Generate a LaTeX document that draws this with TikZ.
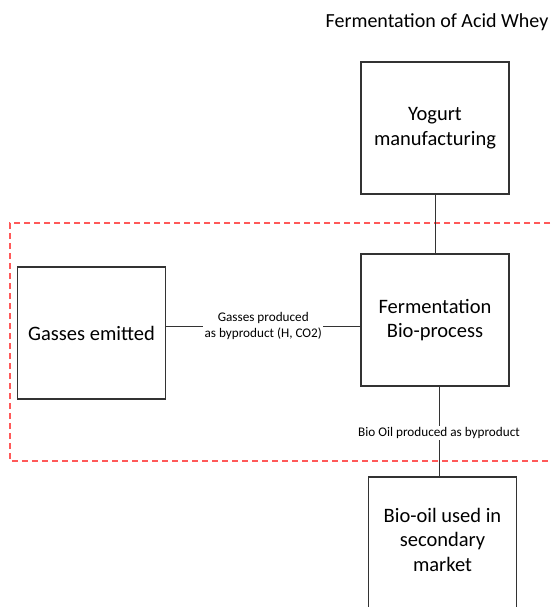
\documentclass[tikz,border=0pt]{standalone}
\usepackage{fontspec}
\setmainfont{Carlito}
\usetikzlibrary{positioning}

\tikzset{
  stage/.style={draw=black!80,line width=1.2pt,minimum width=148pt,minimum height=132pt,align=center,font=\fontsize{20.5}{24.5}\selectfont,inner sep=2pt},
  flowlabel/.style={fill=white,align=center,font=\fontsize{13.2}{16}\selectfont,inner sep=1.5pt},
  link/.style={draw=black!80,line width=1pt}
}

\begin{document}
\begin{tikzpicture}[x=1pt,y=1pt]
\useasboundingbox (0,0) rectangle (550,-607);
\node[font=\fontsize{20}{24}\selectfont] (title) at (437,-22) {Fermentation of Acid Whey};
\draw[red!65,line width=1.3pt,dash pattern=on 6pt off 4pt] (560,-223) -- (10,-223) -- (10,-461) -- (560,-461);
\node[stage] (yog) at (435,-128) {Yogurt\\manufacturing};
\node[stage] (ferm) at (435,-320) {Fermentation\\Bio-process};
\node[stage] (gas) at (91.5,-333) {Gasses emitted};
\node[stage,minimum height=150pt,text depth=25pt] (oil) at (442.5,-552) {Bio-oil used in\\secondary\\market};
\draw[link] (yog.south) -- (ferm.north);
\draw[link] ([yshift=7pt]gas.east) -- node[flowlabel] {Gasses produced\\as byproduct (H, CO2)} ([yshift=-6pt]ferm.west);
\draw[link] ([xshift=4pt]ferm.south) -- node[flowlabel,pos=0.52] {Bio Oil produced as byproduct} ([xshift=-3.5pt]oil.north);
\end{tikzpicture}
\end{document}
